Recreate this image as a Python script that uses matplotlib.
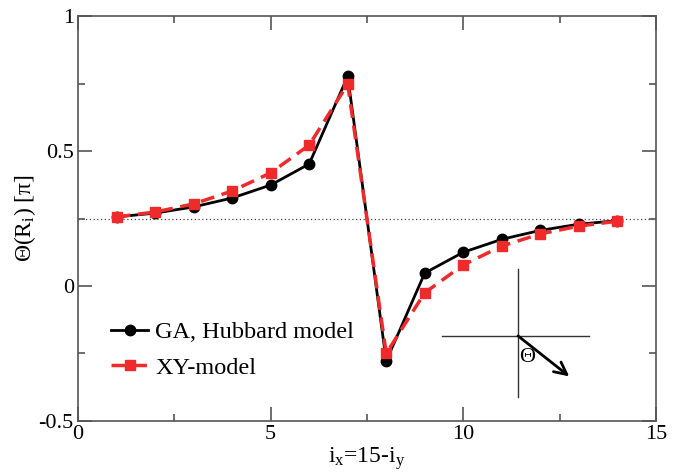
import numpy as np
import matplotlib.pyplot as plt

plt.rcParams['font.family'] = ['Liberation Serif', 'DejaVu Serif']
plt.rcParams['mathtext.fontset'] = 'custom'
plt.rcParams['mathtext.rm'] = 'Liberation Serif'
plt.rcParams['mathtext.it'] = 'Liberation Serif'

# site index along the diagonal
ix = np.arange(1, 15)

# GA, Hubbard model (black circles)
theta_ga = [0.256, 0.270, 0.293, 0.326, 0.374, 0.452, 0.777,
            -0.278, 0.048, 0.125, 0.173, 0.206, 0.229, 0.242]
# XY-model (red dashed squares)
theta_xy = [0.256, 0.274, 0.304, 0.352, 0.419, 0.522, 0.748,
            -0.250, -0.025, 0.078, 0.148, 0.193, 0.222, 0.240]

fig = plt.figure(figsize=(6.84, 4.74), dpi=100)
ax = fig.add_axes([0.114, 0.112, 0.845, 0.854])

ax.axhline(0.25, color='#444444', lw=0.9, ls=(0, (1, 2)), zorder=1)

ax.plot(ix, theta_ga, '-o', color='black', lw=2, ms=7.5,
        label='GA, Hubbard model', zorder=3)
ax.plot(ix, theta_xy, '--s', color='#ee2a2a', lw=2.5, ms=7,
        dashes=(4, 2.2), label='XY-model', zorder=4)

# little sketch of the angle
ax.plot([11.42, 11.42], [0.063, -0.411], color='#333333', lw=1)
ax.plot([9.45, 13.26], [-0.185, -0.185], color='#333333', lw=1)
ax.annotate('', xy=(12.75, -0.335), xytext=(11.42, -0.185),
            arrowprops=dict(arrowstyle='->', color='black', lw=2,
                            mutation_scale=22, shrinkA=0, shrinkB=0))
ax.text(11.66, -0.265, 'Θ', fontsize=16, ha='center', va='center')

ax.set_xlim(0, 15)
ax.set_ylim(-0.5, 1)
ax.set_xticks([0, 5, 10, 15])
ax.set_xticks([2.5, 7.5, 12.5], minor=True)
ax.set_yticks([-0.5, 0, 0.5, 1])
ax.set_yticks([-0.25, 0.25, 0.75], minor=True)
ax.set_xticklabels(['0', '5', '10', '15'])
ax.set_yticklabels(['-0.5', '0', '0.5', '1'])
ax.tick_params(which='both', direction='in', top=True, right=True,
               color='#555555', labelsize=16, width=1.2)
ax.tick_params(which='major', length=10)
ax.tick_params(which='minor', length=5)
ax.tick_params(axis='x', which='major', pad=3)
ax.tick_params(axis='y', which='major', pad=3)
for s in ax.spines.values():
    s.set_color('#555555')
    s.set_linewidth(1.2)

ax.set_xlabel(r'i$_\mathregular{x}$=15-i$_\mathregular{y}$', fontsize=17, labelpad=1)
ax.set_ylabel(r'Θ(R$_\mathregular{i}$) [π]', fontsize=17)
ax.yaxis.set_label_coords(-0.07, 0.5)

ax.legend(loc='lower left', bbox_to_anchor=(0.02, 0.05), frameon=False,
          fontsize=17.5, handlelength=1.5, handletextpad=0.3, labelspacing=0.55)

fig.savefig('out.png', dpi=100)
